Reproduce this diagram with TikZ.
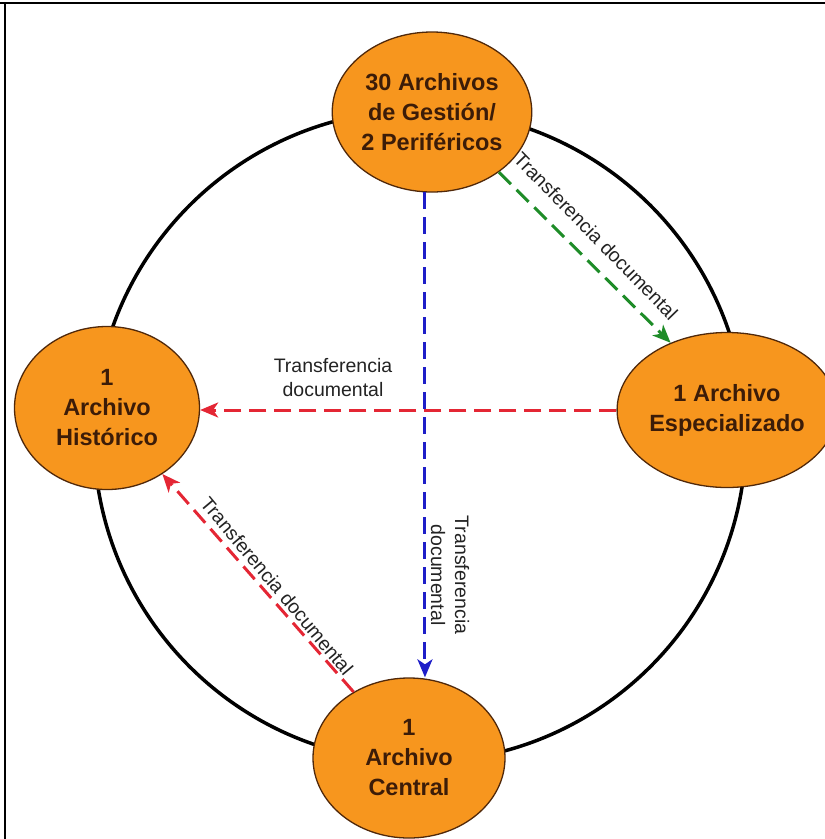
\documentclass[tikz,border=0pt]{standalone}
\usepackage{fontspec}
\setmainfont{Liberation Sans}
\usetikzlibrary{shapes.geometric,arrows.meta,calc}

\definecolor{archfill}{RGB}{247,150,30}
\definecolor{archedge}{RGB}{80,40,10}
\definecolor{archtext}{RGB}{60,28,8}
\definecolor{flowred}{RGB}{228,38,52}
\definecolor{flowgreen}{RGB}{30,140,40}
\definecolor{flowblue}{RGB}{30,30,200}
\definecolor{labeltext}{RGB}{35,35,35}

\begin{document}
\begin{tikzpicture}[x=1pt,y=-1pt,
  archivo/.style={ellipse, draw=archedge, line width=1.3pt, fill=archfill,
    inner sep=0pt, align=center, text=archtext,
    font=\fontsize{23.5}{30}\selectfont\bfseries},
  flow/.style={line width=3pt, dash pattern=on 17pt off 8pt,
    -{Stealth[length=18pt,width=15pt,inset=5pt]}},
  flowlabel/.style={font=\fontsize{19.5}{24}\selectfont, text=labeltext,
    align=center, inner sep=0pt},
  frameline/.style={line width=2pt, black}
]
\useasboundingbox (0,0) rectangle (825,839);

% page frame (top and left edges)
\draw[frameline, line width=2.5pt] (0,3) -- (825,3);
\draw[frameline, line width=1.5pt] (5,3) -- (5,839);

% the cycle ring
\draw[line width=3.5pt] (420,436) circle[radius=326pt];

% archive units
\node[archivo, minimum width=185pt, minimum height=160pt] (top) at (432,112)
  {30 Archivos\\de Gestión/\\2 Periféricos};
\node[archivo, minimum width=185pt, minimum height=155pt] (right) at (727,410)
  {1 Archivo\\Especializado};
\node[archivo, minimum width=185pt, minimum height=163pt] (left) at (107,408)
  {1\\Archivo\\Histórico};
\node[archivo, minimum width=192pt, minimum height=160pt] (bottom) at (409,758)
  {1\\Archivo\\Central};

% document transfers
\draw[flow, flowgreen] (top.-42) -- (right.130);
\draw[flow, flowblue] (top.-95) -- (top.-95 |- bottom.north);
\draw[flow, flowred] (right.west) -- (right.west -| left.east);
\draw[flow, flowred] (bottom.130) -- (left.-50);

% transfer labels
\node[flowlabel, rotate=-45.7] (lgreen) at (596,236) {Transferencia documental};
\node[flowlabel, rotate=-90] (lblue) at (450,575) {Transferencia\\documental};
\node[flowlabel] (lredh) at (333,378) {Transferencia\\documental};
\node[flowlabel, rotate=-50] (lredd) at (277,586) {Transferencia documental};
\end{tikzpicture}
\end{document}
